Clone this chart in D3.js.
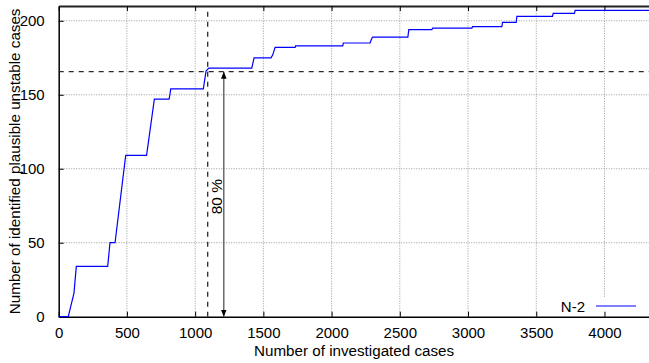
<!DOCTYPE html>
<html>
<head>
<meta charset="utf-8">
<script src="https://cdn.jsdelivr.net/npm/d3@7"></script>
<style>
  html, body { margin: 0; padding: 0; background: #fff; }
  svg { display: block; font-family: "Liberation Sans", Arial, Helvetica, sans-serif; }
</style>
</head>
<body>
<svg id="chart" width="649" height="363"></svg>
<script>
// Cumulative count of identified plausible unstable cases (N-2 contingencies)
const investigatedCases = [0, 70, 112, 129, 359, 376, 413, 491, 644, 701, 809, 815, 821, 1060, 1080, 1100,
  1415, 1432, 1556, 1569, 1586, 1733, 1736, 2082, 2086, 2282, 2290, 2300, 2559, 2566, 2735, 2740,
  3028, 3033, 3248, 3253, 3353, 3358, 3619, 3624, 3780, 3785, 4330];
const identifiedCases = [0, 0, 16, 34, 34, 50, 50, 109, 109, 147, 147, 150, 154, 154, 166, 168, 168,
  175, 175, 177, 182, 182, 183, 183, 185, 185, 187, 189, 189, 194, 194, 195, 195, 196, 196, 199, 199,
  203, 203, 205, 205, 207, 207];

const xTicks = [0, 500, 1000, 1500, 2000, 2500, 3000, 3500, 4000];
const yTicks = [0, 50, 100, 150, 200];
const seriesName = "N-2";
const shareLabel = "80 %";
const shareFraction = 0.8;
const markerCases = 1092;   // cases needed to reach the 80 % share
const arrowCases = 1210;

const xDomain = [0, 4330];
const yDomain = [0, 210];

const svg = d3.select("#chart");
const plotLeft = 58.7, plotRight = 649.5, plotTop = 6, plotBottom = 316.7;

const x = d3.scaleLinear().domain(xDomain).range([plotLeft, plotRight]);
const y = d3.scaleLinear().domain(yDomain).range([plotBottom, plotTop]);

const total = identifiedCases[identifiedCases.length - 1];
const shareValue = total * shareFraction;

// grid
const grid = svg.append("g").attr("stroke", "#9a9a9a").attr("stroke-width", 1)
  .attr("stroke-dasharray", "1,1.5");
grid.selectAll("line.gx").data(xTicks.filter(d => d > 0)).join("line")
  .attr("x1", d => x(d)).attr("x2", d => x(d)).attr("y1", y(yDomain[0])).attr("y2", y(yDomain[1]));
grid.selectAll("line.gy").data(yTicks.filter(d => d > 0)).join("line")
  .attr("x1", x(xDomain[0])).attr("x2", x(xDomain[1])).attr("y1", d => y(d)).attr("y2", d => y(d));

// opaque key area over the grid
svg.append("rect").attr("x", 556).attr("y", 297).attr("width", 88).attr("height", 19)
  .attr("fill", "#fff");

// axes with inward ticks
const fmt = d3.format("d");
const xAxis = d3.axisBottom(x).tickValues(xTicks).tickFormat(fmt)
  .tickSizeInner(-5).tickSizeOuter(0).tickPadding(11);
const xTop = d3.axisTop(x).tickValues(xTicks).tickSizeInner(-5).tickSizeOuter(0).tickFormat("");
const yAxis = d3.axisLeft(y).tickValues(yTicks).tickFormat(fmt)
  .tickSizeInner(-5).tickSizeOuter(0).tickPadding(14);

function styleAxis(g) {
  g.select(".domain").attr("stroke", "#000").attr("stroke-width", 1.5);
  g.selectAll(".tick line").attr("stroke", "#000").attr("stroke-width", 1);
  g.selectAll(".tick text").attr("fill", "#000").attr("font-size", "15px")
    .attr("font-family", "'Liberation Sans', Arial, sans-serif");
}
svg.append("g").attr("transform", `translate(0,${plotBottom})`).call(xAxis).call(styleAxis);
svg.append("g").attr("transform", `translate(0,${plotTop})`).call(xTop).call(styleAxis)
  .select(".domain").attr("stroke", "#222").attr("stroke-width", 2);
svg.append("g").attr("transform", `translate(${plotLeft},0)`).call(yAxis).call(styleAxis);

// 80 % reference lines
const dash = svg.append("g").attr("stroke", "#2a2a2a").attr("stroke-width", 1.3)
  .attr("stroke-dasharray", "5,5").attr("fill", "none");
dash.append("line").attr("x1", x(xDomain[0])).attr("x2", x(xDomain[1]))
  .attr("y1", y(shareValue)).attr("y2", y(shareValue));
dash.append("line").attr("x1", x(markerCases)).attr("x2", x(markerCases))
  .attr("y1", y(yDomain[0])).attr("y2", y(yDomain[1]));

// double-headed arrow spanning 0 .. 80 %
const defs = svg.append("defs");
defs.append("marker").attr("id", "head").attr("viewBox", "0 0 10 10")
  .attr("refX", 10).attr("refY", 5).attr("markerWidth", 7).attr("markerHeight", 7)
  .attr("markerUnits", "userSpaceOnUse").attr("orient", "auto-start-reverse")
  .append("path").attr("d", "M0,1 L10,5 L0,9 Z").attr("fill", "#000");
svg.append("line")
  .attr("x1", x(arrowCases)).attr("x2", x(arrowCases))
  .attr("y1", y(0)).attr("y2", y(shareValue))
  .attr("stroke", "#555").attr("stroke-width", 1.3)
  .attr("marker-start", "url(#head)").attr("marker-end", "url(#head)");

svg.append("text")
  .attr("transform", `translate(${x(arrowCases) - 2},${y(shareValue * 0.49)}) rotate(-90)`)
  .attr("text-anchor", "middle").attr("font-size", "15.5px").attr("fill", "#000")
  .text(shareLabel);

// data line
const line = d3.line().x((d, i) => x(investigatedCases[i])).y(d => y(d));
svg.append("path").datum(identifiedCases)
  .attr("d", line).attr("fill", "none").attr("stroke", "#0000ff").attr("stroke-width", 1.2);

// legend
svg.append("text").attr("x", 585).attr("y", 312).attr("text-anchor", "end")
  .attr("font-size", "15px").attr("fill", "#000").text(seriesName);
svg.append("line").attr("x1", 596).attr("x2", 636).attr("y1", 306).attr("y2", 306)
  .attr("stroke", "#0000ff").attr("stroke-width", 1.2);

// axis titles
svg.append("text").attr("x", (plotLeft + plotRight) / 2).attr("y", 355.5)
  .attr("text-anchor", "middle").attr("font-size", "15.2px").attr("fill", "#000")
  .text("Number of investigated cases");
svg.append("text")
  .attr("transform", `translate(20,${(plotTop + plotBottom) / 2}) rotate(-90)`)
  .attr("text-anchor", "middle").attr("font-size", "15.2px").attr("fill", "#000")
  .text("Number of identified plausible unstable cases");
</script>
</body>
</html>
